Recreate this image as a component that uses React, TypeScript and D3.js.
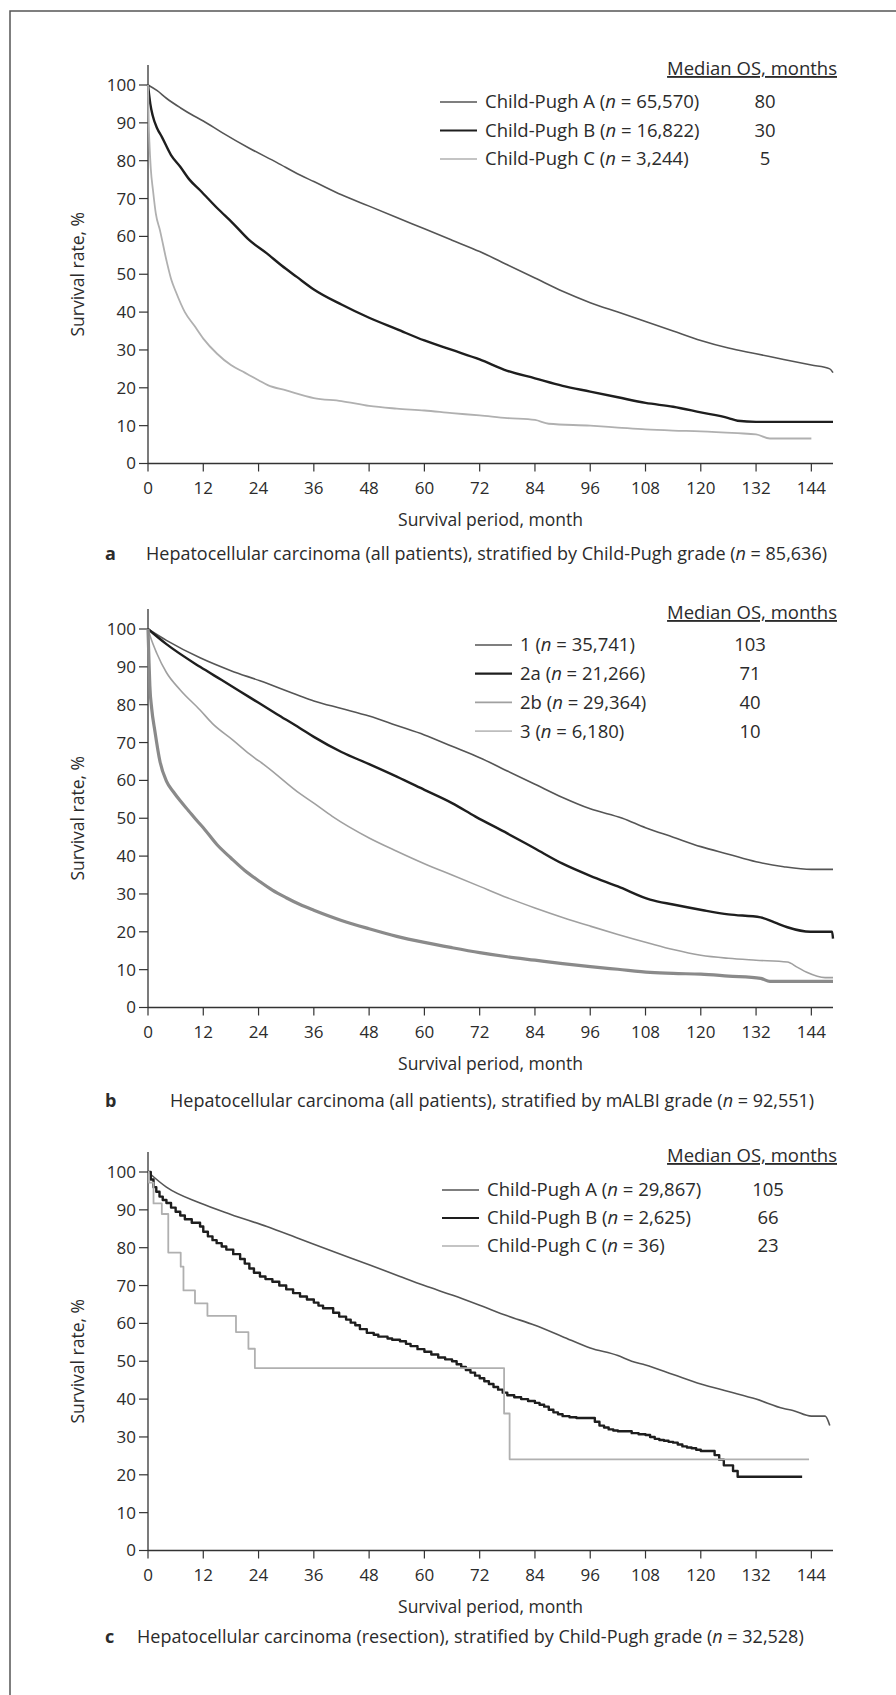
import React from 'react';
import * as d3 from 'd3';

type Pt = [number, number];

// ---------- shared axes ----------
const xTicks = [0, 12, 24, 36, 48, 60, 72, 84, 96, 108, 120, 132, 144];
const yTicks = [0, 10, 20, 30, 40, 50, 60, 70, 80, 90, 100];
const xTitle = 'Survival period, month';
const yTitle = 'Survival rate, %';
const legendHeader = 'Median OS, months';

// ---------- panel a ----------
const aLabels = ['Child-Pugh A', 'Child-Pugh B', 'Child-Pugh C'];
const aN = ['65,570', '16,822', '3,244'];
const aMedian = ['80', '30', '5'];
const aCPA: Pt[] = [[0,100],[2,98.5],[4,96.5],[7,94],[10,91.8],[12,90.5],[16,87.5],[22,83.3],[28,79.5],[33,76.2],[36,74.5],[42,71],[48,68],[54,65],[60,62],[66,59],[72,56],[78,52.5],[84,49],[90,45.5],[96,42.5],[102,40],[108,37.5],[114,35],[120,32.5],[126,30.5],[132,29],[138,27.5],[144,26],[148,25],[148.7,24]];
const aCPB: Pt[] = [[0,100],[0.5,95],[1,92],[2,88.5],[3,86.3],[5,81.5],[7,78.4],[9,75],[11.3,72.2],[15,67.5],[18.5,63.4],[22,59],[25.8,55.5],[29,52.3],[32.3,49.3],[36,46],[42,42],[48,38.5],[54,35.5],[60,32.5],[66,30],[72,27.5],[78,24.5],[84,22.5],[90,20.5],[96,19],[102,17.5],[108,16],[114,15],[120,13.5],[126,12],[128,11.3],[132,11],[148.7,11]];
const aCPC: Pt[] = [[0,100],[0.15,90],[0.3,85],[0.6,78],[1.1,72],[1.7,66],[2.6,61.6],[4,53.7],[5.1,48.4],[6,45.5],[8,40],[10,36.5],[12,33],[15,29],[18,26],[21,24],[24,22],[26,20.7],[30,19.3],[36,17.3],[42,16.5],[48,15.2],[54,14.5],[60,14],[66,13.3],[72,12.7],[78,12],[84,11.5],[87,10.5],[96,10],[102,9.5],[108,9],[114,8.7],[120,8.5],[128,8],[132,7.7],[135,6.6],[144,6.6]];
const aCaption = ['Hepatocellular carcinoma (all patients), stratified by Child-Pugh grade (', '85,636'];

// ---------- panel b ----------
const bLabels = ['1', '2a', '2b', '3'];
const bN = ['35,741', '21,266', '29,364', '6,180'];
const bMedian = ['103', '71', '40', '10'];
const bG1: Pt[] = [[0,100],[4,97],[11.3,92.4],[18,89],[24.3,86.3],[33,82.3],[36,81],[42,79],[48,77],[54,74.5],[60,72],[66,69],[72,66],[78,62.5],[84,59],[90,55.5],[96,52.5],[103,50],[108,47.5],[114,45],[120,42.5],[126,40.5],[132,38.5],[138,37.2],[144,36.5],[148.7,36.5]];
const bG2a: Pt[] = [[0,100],[4,96],[11.3,90],[16,86.5],[22,82],[28,77.5],[33,73.8],[36,71.5],[42,67.5],[48,64.3],[54,61],[60,57.5],[66,54],[71,50.5],[78,46],[84,42],[90,38],[96,34.8],[102,32],[109,28.5],[114,27.2],[120.5,25.7],[126,24.6],[133,23.8],[136,22.5],[138.8,21.2],[143.8,20],[148.5,20],[148.7,18.2]];
const bG2b: Pt[] = [[0,100],[0.5,98],[1.9,93.6],[4,88.5],[7,83.9],[11.3,78.6],[14,75],[18.5,70.6],[22,67],[25.8,63.6],[33,56.5],[36,54],[40,50.5],[48,44.8],[54,41.3],[60,38],[66,35],[72,32],[78,29],[84,26.3],[90,23.8],[96,21.5],[102,19.3],[109,16.9],[114,15.3],[120,13.8],[126,13],[132,12.5],[138.8,12],[141,10.6],[143,9.3],[147,7.9],[148.7,7.9]];
const bG3: Pt[] = [[0,100],[0.2,92],[0.4,85],[0.8,79],[1.5,73],[2.6,65],[4,59.8],[5.5,57],[7,54.6],[8.8,52],[10.6,49.4],[12,47.5],[15,43],[18,39.5],[21,36.2],[24,33.5],[27,31],[30,29],[33,27.2],[36,25.7],[42,23],[48,20.8],[54,18.8],[60,17.2],[66,15.8],[72,14.5],[78,13.4],[84,12.5],[90,11.6],[96,10.8],[102,10.1],[109,9.3],[114,9],[120,8.8],[126,8.3],[133,7.7],[135,6.9],[148.7,6.9]];
const bCaption = ['Hepatocellular carcinoma (all patients), stratified by mALBI grade (', '92,551'];

// ---------- panel c ----------
const cLabels = ['Child-Pugh A', 'Child-Pugh B', 'Child-Pugh C'];
const cN = ['29,867', '2,625', '36'];
const cMedian = ['105', '66', '23'];
const cCPA: Pt[] = [[0,100],[4,96],[11.3,91.8],[18,88.8],[25.8,85.6],[33,82.3],[40.2,79],[48,75.5],[54.7,72.4],[60,70],[66,67.5],[72,64.8],[78,62],[84,59.5],[90,56.5],[96,53.5],[102,51.5],[105,50],[108,49],[114,46.5],[120,44],[126,42],[132,40],[138,37.5],[140,37],[144,35.5],[147,35.5],[148,33]];
const cCPB: Pt[] = [[0,100],[0.6,98],[1.2,96],[1.8,94.8],[2.5,93.5],[3.2,92.6],[4,91.8],[5,90.6],[6,89.5],[7,88.5],[8,87.5],[9.5,86.6],[11.3,85.6],[12,84.2],[13,83],[14,82],[14.9,81.2],[16,80.3],[17,79.5],[18.5,78.3],[20,77],[21,75.8],[22,74.5],[23,73.4],[24.3,72.4],[25.5,71.7],[27,71],[28.5,70],[30,69],[31.5,68],[33,67.1],[34.5,66.3],[36,65.5],[37,64.7],[38,64],[40.2,62.8],[41.5,61.8],[43,61],[44,60.2],[45,59.5],[46,58.5],[47.5,57.5],[49,57],[50,56.5],[52,56],[53,55.7],[54.7,55.3],[56,54.6],[57,54],[58.5,53.2],[60,52.5],[61.5,51.8],[63,51],[64.5,50.5],[66,50],[67,49.2],[68,48.5],[69,47.7],[70,47],[71,46.2],[72,45.5],[73,44.7],[74,44],[75,43.2],[76,42.5],[77,41.7],[78,41],[79.5,40.5],[81,40],[82.5,39.5],[84,39],[85,38.5],[86,38],[87,37.2],[88,36.5],[89,36],[90,35.5],[91.5,35.2],[93,35],[96,35],[97,34],[98,33],[99,32.5],[100,32],[101,31.7],[102,31.5],[105,31],[106.5,30.7],[108,30.5],[109,30],[110,29.5],[111,29.2],[112,29],[113,28.7],[114,28.5],[115,28],[116,27.5],[117,27.2],[118,27],[119,26.6],[120,26.3],[122,26.3],[123,25.2],[124,24],[125,22.5],[126,22.5],[127,21],[128,19.5],[142,19.5]];
const cCPC: Pt[] = [[0,100],[0.2,97.2],[1.2,91.7],[3,88.9],[4.4,78.7],[7.1,75],[7.7,68.7],[10.2,65.3],[12.9,62],[19.1,57.7],[21.8,53.3],[23.2,48.2],[77.3,36.2],[78.5,24.1],[143.5,24.1]];
const cCaption = ['Hepatocellular carcinoma (resection), stratified by Child-Pugh grade (', '32,528'];

// ---------- styling ----------
const FONT = "'Open Sans', 'Noto Sans', sans-serif";
const TXT = '#2b2b2b';
const AX = '#333';

type Series = { data: Pt[]; color: string; width: number; step: boolean; legendColor: string; legendWidth: number };

interface PanelProps {
  top: number;
  letter: string;
  captionX: number;
  captionDy: number;
  caption: string[];
  labels: string[];
  ns: string[];
  medians: string[];
  series: Series[];
  legendLineX: number;
  medianX: number;
  rowStart: number;
  rowGap: number;
}

const PLOT_H = 378.5;
const x = d3.scaleLinear().domain([0, 148.7]).range([148, 833]);

function Panel(p: PanelProps) {
  const y = d3.scaleLinear().domain([0, 100]).range([p.top + PLOT_H, p.top]);
  const y0 = y(0);
  return (
    <g fontFamily={FONT} fill={TXT}>
      {/* axes */}
      <line x1={x(0)} x2={x(0)} y1={y0} y2={p.top - 20} stroke={AX} strokeWidth={1.3} />
      <line x1={x(0)} x2={x.range()[1]} y1={y0} y2={y0} stroke={AX} strokeWidth={1.3} />
      {yTicks.map((t) => (
        <g key={'y' + t}>
          <line x1={x(0) - 9} x2={x(0)} y1={y(t)} y2={y(t)} stroke={AX} strokeWidth={1.2} />
          <text x={x(0) - 12} y={y(t)} dy="0.35em" textAnchor="end" fontSize={17}>{t}</text>
        </g>
      ))}
      {xTicks.map((t) => (
        <g key={'x' + t}>
          <line x1={x(t)} x2={x(t)} y1={y0} y2={y0 + 8} stroke={AX} strokeWidth={1.2} />
          <text x={x(t)} y={y0 + 25} dy="0.35em" textAnchor="middle" fontSize={17}>{t}</text>
        </g>
      ))}
      <text x={(x(0) + x.range()[1]) / 2} y={y0 + 56} dy="0.35em" textAnchor="middle" fontSize={17.5}>{xTitle}</text>
      <text transform={`translate(78,${(y(0) + y(100)) / 2}) rotate(-90)`} dy="0.35em" textAnchor="middle" fontSize={17.5}>{yTitle}</text>

      {/* curves */}
      {p.series.map((s, i) => {
        const gen = d3.line<Pt>().x((d) => x(d[0])).y((d) => y(d[1])).curve(s.step ? d3.curveStepAfter : d3.curveMonotoneX);
        return <path key={'s' + i} d={gen(s.data) || ''} fill="none" stroke={s.color} strokeWidth={s.width} strokeLinejoin="round" />;
      })}

      {/* legend */}
      <text x={837} y={p.top - 10} textAnchor="end" fontSize={18.5} textDecoration="underline">{legendHeader}</text>
      {p.labels.map((lab, i) => {
        const ry = p.rowStart + i * p.rowGap;
        const s = p.series[i];
        return (
          <g key={'l' + i}>
            <line x1={p.legendLineX} x2={p.legendLineX + 37} y1={ry} y2={ry} stroke={s.legendColor} strokeWidth={s.legendWidth} />
            <text x={p.legendLineX + 45} y={ry} dy="0.35em" fontSize={18.5}>
              {lab} (<tspan fontStyle="italic">n</tspan> = {p.ns[i]})
            </text>
            <text x={p.medianX} y={ry} dy="0.35em" textAnchor="middle" fontSize={18.5}>{p.medians[i]}</text>
          </g>
        );
      })}

      {/* caption */}
      <text x={105} y={y0 + p.captionDy} dy="0.35em" fontSize={18} fontWeight="bold">{p.letter}</text>
      <text x={p.captionX} y={y0 + p.captionDy} dy="0.35em" fontSize={18}>
        {p.caption[0]}<tspan fontStyle="italic">n</tspan> = {p.caption[1]})
      </text>
    </g>
  );
}

const COL_A = '#555';
const COL_B = '#1e1e1e';
const COL_C = '#b0b0b0';

export default function App() {
  const panelA: Series[] = [
    { data: aCPA, color: COL_A, width: 1.6, step: false, legendColor: COL_A, legendWidth: 1.6 },
    { data: aCPB, color: COL_B, width: 2.4, step: false, legendColor: COL_B, legendWidth: 2.2 },
    { data: aCPC, color: COL_C, width: 1.8, step: false, legendColor: COL_C, legendWidth: 1.6 },
  ];
  const panelB: Series[] = [
    { data: bG1, color: COL_A, width: 1.6, step: false, legendColor: COL_A, legendWidth: 1.6 },
    { data: bG2a, color: COL_B, width: 2.4, step: false, legendColor: COL_B, legendWidth: 2.2 },
    { data: bG2b, color: '#a0a0a0', width: 1.6, step: false, legendColor: '#a0a0a0', legendWidth: 1.6 },
    { data: bG3, color: '#8a8a8a', width: 3.2, step: false, legendColor: '#bdbdbd', legendWidth: 1.6 },
  ];
  const panelC: Series[] = [
    { data: cCPA, color: COL_A, width: 1.6, step: false, legendColor: COL_A, legendWidth: 1.6 },
    { data: cCPB, color: COL_B, width: 2.4, step: true, legendColor: COL_B, legendWidth: 2.2 },
    { data: cCPC, color: COL_C, width: 1.8, step: true, legendColor: COL_C, legendWidth: 1.6 },
  ];
  return (
    <svg width={896} height={1695} style={{ position: 'absolute', left: 0, top: 0, background: '#fff' }}>
      <rect x={0} y={0} width={896} height={1695} fill="#fff" />
      <path d="M10,1695 V11 H896" fill="none" stroke="#555" strokeWidth={1.5} />
      <Panel top={85} letter="a" captionX={146} captionDy={90} caption={aCaption} labels={aLabels} ns={aN} medians={aMedian} series={panelA}
        legendLineX={440} medianX={765} rowStart={102} rowGap={28.5} />
      <Panel top={629} letter="b" captionX={170} captionDy={93} caption={bCaption} labels={bLabels} ns={bN} medians={bMedian} series={panelB}
        legendLineX={475} medianX={750} rowStart={645} rowGap={28.7} />
      <Panel top={1172} letter="c" captionX={137} captionDy={86} caption={cCaption} labels={cLabels} ns={cN} medians={cMedian} series={panelC}
        legendLineX={442} medianX={768} rowStart={1190} rowGap={28} />
    </svg>
  );
}
